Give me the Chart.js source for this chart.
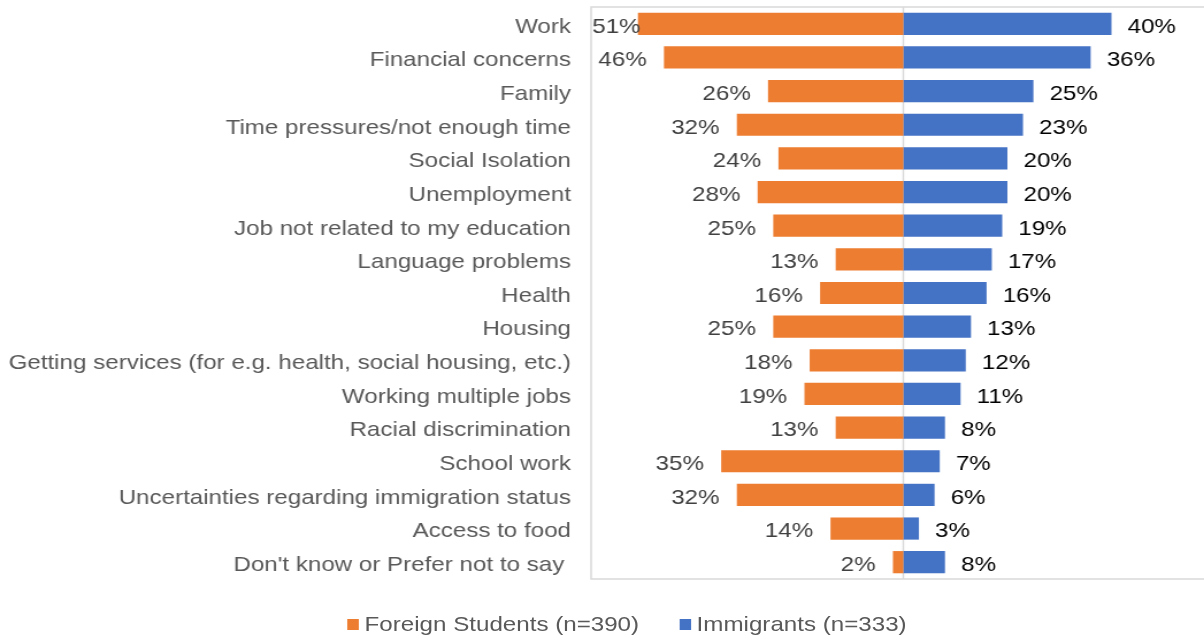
<!DOCTYPE html>
<html>
<head>
<meta charset="utf-8">
<script src="https://cdn.jsdelivr.net/npm/chart.js@4/dist/chart.umd.min.js"></script>
<style>
  html, body { margin: 0; padding: 0; background: #fff; overflow: hidden; }
  #wrap { position: relative; width: 1204px; height: 638px; overflow: hidden; }
  /* 차트 전체를 가로로 늘려서 그림 */
  #inner { position: absolute; left: 0; top: 0; width: 1057px; height: 638px; transform-origin: 0 0; }
  #chart { position: absolute; left: 0; top: 0; }
  #legend {
    position: absolute; left: 302px; top: 612px;
    display: flex; align-items: center;
    font-family: "Liberation Sans", Arial, sans-serif; font-size: 21px; color: #595959;
    white-space: nowrap;
  }
  #legend .item { display: flex; align-items: center; margin-right: 35px; }
  #legend .box { width: 10px; height: 11px; margin-right: 5px; }
</style>
</head>
<body>
<div id="wrap">
  <div id="inner">
    <canvas id="chart" width="1057" height="638"></canvas>
    <div id="legend"></div>
  </div>
</div>
<script>
// 응답 항목 (위에서 아래 순서)
const categories = [
  "Work", "Financial concerns", "Family", "Time pressures/not enough time",
  "Social Isolation", "Unemployment", "Job not related to my education",
  "Language problems", "Health", "Housing",
  "Getting services (for e.g. health, social housing, etc.)",
  "Working multiple jobs", "Racial discrimination", "School work",
  "Uncertainties regarding immigration status", "Access to food",
  "Don't know or Prefer not to say "
];

// 유학생 (왼쪽으로 그림)
const foreignStudents = [51, 46, 26, 32, 24, 28, 25, 13, 16, 25, 18, 19, 13, 35, 32, 14, 2];
// 이민자 (오른쪽으로 그림)
const immigrants = [40, 36, 25, 23, 20, 20, 19, 17, 16, 13, 12, 11, 8, 7, 6, 3, 8];

const seriesNames = ["Foreign Students (n=390)", "Immigrants (n=333)"];
const seriesColors = ["#ED7D31", "#4472C4"];

const FONT = '"Liberation Sans", Arial, sans-serif';
const STRETCH = 1.15;
document.getElementById('inner').style.transform = `scaleX(${STRETCH})`;

// 플롯 테두리 + 0 기준선
const framePlugin = {
  id: 'frame',
  beforeDatasetsDraw(chart) {
    const { ctx, chartArea: a, scales } = chart;
    const x0 = scales.x.getPixelForValue(0);
    ctx.save();
    ctx.strokeStyle = '#d9d9d9';
    ctx.lineWidth = 1.5;
    ctx.strokeRect(a.left, a.top, a.right - a.left, a.bottom - a.top);
    ctx.beginPath();
    ctx.moveTo(x0, a.top);
    ctx.lineTo(x0, a.bottom);
    ctx.stroke();
    ctx.restore();
  }
};

// 막대 끝 퍼센트 라벨
const valueLabels = {
  id: 'valueLabels',
  afterDatasetsDraw(chart) {
    const { ctx, chartArea: a } = chart;
    ctx.save();
    ctx.font = '21px ' + FONT;
    ctx.textBaseline = 'middle';
    chart.data.datasets.forEach((ds, di) => {
      const meta = chart.getDatasetMeta(di);
      meta.data.forEach((bar, i) => {
        const txt = Math.abs(ds.data[i]) + '%';
        const w = ctx.measureText(txt).width;
        if (di === 0) {
          let x = bar.x - 15;
          if (x - w < a.left + 1) x = a.left + 1 + w;
          ctx.fillStyle = '#404040';
          ctx.textAlign = 'right';
          ctx.fillText(txt, x, bar.y + 3);
        } else {
          ctx.fillStyle = '#000000';
          ctx.textAlign = 'left';
          ctx.fillText(txt, bar.x + 14, bar.y + 3);
        }
      });
    });
    ctx.restore();
  }
};

const chart = new Chart(document.getElementById('chart'), {
  type: 'bar',
  data: {
    labels: categories,
    datasets: [
      {
        label: seriesNames[0],
        data: foreignStudents.map(v => -v),
        backgroundColor: seriesColors[0]
      },
      {
        label: seriesNames[1],
        data: immigrants,
        backgroundColor: seriesColors[1]
      }
    ]
  },
  options: {
    indexAxis: 'y',
    responsive: false,
    animation: false,
    categoryPercentage: 0.66,
    barPercentage: 1,
    layout: { padding: { top: 7, bottom: 59, left: 0, right: 0 } },
    plugins: {
      legend: { display: false },
      tooltip: { enabled: false }
    },
    scales: {
      x: {
        display: false,
        stacked: true,
        min: -60,
        max: 60
      },
      y: {
        stacked: true,
        grid: { display: false },
        border: { display: false },
        ticks: {
          autoSkip: false,
          padding: 9.5,
          labelOffset: 3,
          color: '#595959',
          font: { family: FONT, size: 21 }
        },
        afterFit(scale) {
          scale.width = 514;
          scale.paddingTop = 0;
          scale.paddingBottom = 0;
        }
      }
    }
  },
  plugins: [framePlugin, valueLabels]
});

// 범례
const legend = document.getElementById('legend');
legend.innerHTML = seriesNames.map((name, i) => `
  <div class="item">
    <div class="box" style="background:${seriesColors[i]}"></div>
    <span>${name}</span>
  </div>
`).join('');
</script>
</body>
</html>
